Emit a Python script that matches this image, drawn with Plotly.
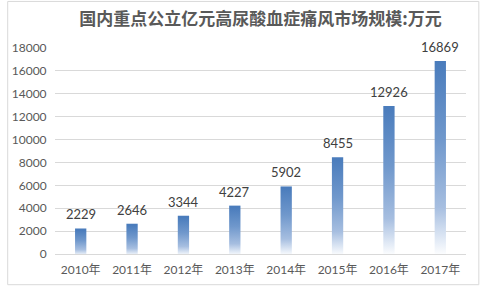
import plotly.graph_objects as go

years = ["2010年", "2011年", "2012年", "2013年", "2014年", "2015年", "2016年", "2017年"]
values = [2229, 2646, 3344, 4227, 5902, 8455, 12926, 16869]
y_ticks = [0, 2000, 4000, 6000, 8000, 10000, 12000, 14000, 16000, 18000]
title = "国内重点公立亿元高尿酸血症痛风市场规模:万元"

bar_w = 0.22
grad = [[0.0, "#ffffff"], [0.08, "#e3ebf6"], [0.25, "#a6bee0"],
        [0.6, "#7098cc"], [1.0, "#4a7cbc"]]

fig = go.Figure()
for i, v in enumerate(values):
    fig.add_trace(go.Scatter(
        x=[i - bar_w / 2, i + bar_w / 2, i + bar_w / 2, i - bar_w / 2, i - bar_w / 2],
        y=[0, 0, v, v, 0],
        mode="lines", line=dict(width=0), fill="toself",
        fillgradient=dict(type="vertical", colorscale=grad, start=0, stop=v),
        hoverinfo="skip", showlegend=False,
    ))

for i, v in enumerate(values):
    fig.add_annotation(x=i, y=v, text=str(v), showarrow=False,
                       yshift=14, yanchor="middle", xanchor="center",
                       font=dict(size=13, color="#404040", family="Lato, Noto Sans CJK SC"))

L, R, T, B = 49, 15, 48, 33
W, H = 481, 289
pw, ph = W - L - R, H - T - B

fig.update_layout(
    width=W, height=H,
    margin=dict(l=L, r=R, t=T, b=B),
    paper_bgcolor="white", plot_bgcolor="white",
    font=dict(family="Lato, Noto Sans CJK SC", color="#595959", size=12),
    title=dict(text="<b>" + title + "</b>", x=0.5, xref="paper", xanchor="center",
               y=1 - 19 / H, yanchor="middle",
               font=dict(size=17, color="#595959", family="Noto Sans CJK SC")),
    xaxis=dict(range=[-0.5, 7.5], tickvals=list(range(len(years))), ticktext=years,
               showgrid=False, zeroline=False, showline=True, linecolor="#d9d9d9",
               linewidth=1, ticks="outside", ticklen=5, tickcolor="rgba(0,0,0,0)",
               tickfont=dict(size=12, color="#595959"), fixedrange=True),
    yaxis=dict(range=[0, 18000], tickvals=y_ticks, ticktext=[str(t) for t in y_ticks],
               showgrid=True, gridcolor="#d9d9d9",
               gridwidth=1, zeroline=False, showline=False,
               ticks="outside", ticklen=5, tickcolor="rgba(0,0,0,0)",
               tickfont=dict(size=12, color="#595959"), fixedrange=True),
    shapes=[dict(type="rect", xref="paper", yref="paper",
                 x0=(1 - L) / pw, x1=(W - 2 - L) / pw,
                 y0=-(H - 2 - T - ph) / ph, y1=1 + (T - 1) / ph,
                 line=dict(color="#d9d9d9", width=1), fillcolor="rgba(0,0,0,0)")],
)

fig.write_html("out.html")
